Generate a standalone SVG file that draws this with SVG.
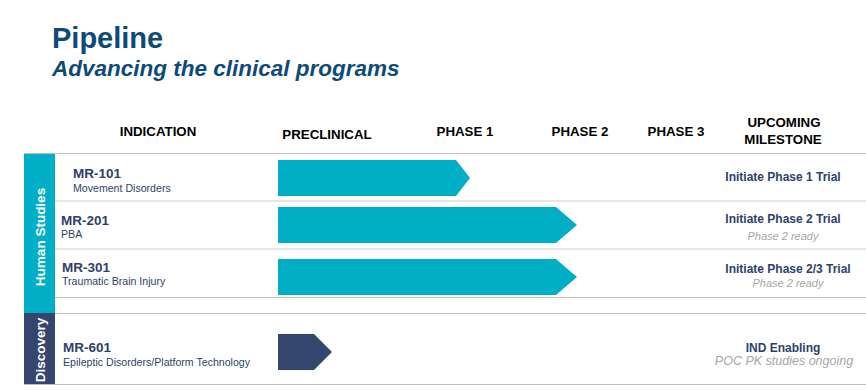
<svg xmlns="http://www.w3.org/2000/svg" width="866" height="392" viewBox="0 0 866 392">
<style>
text{font-family:"Liberation Sans",Arial,sans-serif}
.title{font-size:29px;font-weight:bold;fill:#0d4a78}
.sub{font-size:22.5px;font-weight:bold;font-style:italic;fill:#0d4a78}
.hdr{font-size:13.3px;font-weight:bold;fill:#000;text-anchor:middle}
.code{font-size:13.5px;font-weight:bold;fill:#2f3f6b}
.ind{font-size:10.6px;fill:#2f3f6b}
.ms{font-size:12px;font-weight:bold;fill:#2f3f6b;text-anchor:middle}
.note{font-size:11px;font-style:italic;fill:#a6a6a6;text-anchor:middle}
.side{font-size:13.5px;font-weight:bold;fill:#fff;text-anchor:middle}
.teal{fill:#00afc5}
.navy{fill:#34466e}
.ln{stroke:#bfbfbf;stroke-width:1.2}
.lnl{stroke:#e6e6e6;stroke-width:2}
</style>
<text class="title" x="52" y="48">Pipeline</text>
<text class="sub" x="52" y="76">Advancing the clinical programs</text>
<g id="headers">
<text class="hdr" x="158" y="136">INDICATION</text>
<text class="hdr" x="327" y="139">PRECLINICAL</text>
<text class="hdr" x="465" y="136">PHASE 1</text>
<text class="hdr" x="580" y="136">PHASE 2</text>
<text class="hdr" x="676" y="136">PHASE 3</text>
<text class="hdr" x="784" y="127">UPCOMING</text>
<text class="hdr" x="783" y="144">MILESTONE</text>
</g>
<g id="grid">
<line class="ln" x1="24" y1="153.5" x2="866" y2="153.5"/>
<line class="lnl" x1="55" y1="201" x2="866" y2="201"/>
<line class="lnl" x1="55" y1="249" x2="866" y2="249"/>
<line class="ln" x1="55" y1="297.5" x2="866" y2="297.5"/>
<line class="ln" x1="55" y1="313.5" x2="866" y2="313.5"/>
<line class="ln" x1="24" y1="384.5" x2="866" y2="384.5"/>
</g>
<g id="human-studies">
<rect class="teal" x="24" y="154" width="31" height="159"/>
<text class="side" transform="translate(44.5,237) rotate(-90)">Human Studies</text>
</g>
<g id="discovery">
<rect class="navy" x="24" y="313" width="31" height="71"/>
<text class="side" transform="translate(44.5,350) rotate(-90)">Discovery</text>
</g>
<g id="mr-101">
<text class="code" x="73" y="178">MR-101</text>
<text class="ind" x="73" y="192">Movement Disorders</text>
<polygon class="teal" points="278,160 456,160 470,178 456,196 278,196"/>
<text class="ms" x="783" y="181">Initiate Phase 1 Trial</text>
</g>
<g id="mr-201">
<text class="code" x="61" y="225">MR-201</text>
<text class="ind" x="61" y="238">PBA</text>
<polygon class="teal" points="278,207 556,207 577,225 556,243 278,243"/>
<text class="ms" x="783" y="223">Initiate Phase 2 Trial</text>
<text class="note" x="783" y="240">Phase 2 ready</text>
</g>
<g id="mr-301">
<text class="code" x="62" y="272">MR-301</text>
<text class="ind" x="62" y="285">Traumatic Brain Injury</text>
<polygon class="teal" points="278,259 556,259 577,277 556,295 278,295"/>
<text class="ms" x="788" y="273">Initiate Phase 2/3 Trial</text>
<text class="note" x="788" y="287">Phase 2 ready</text>
</g>
<g id="mr-601">
<text class="code" x="63" y="352">MR-601</text>
<text class="ind" x="63" y="366">Epileptic Disorders/Platform Technology</text>
<polygon class="navy" points="278,334 314,334 332,352 314,370 278,370"/>
<text class="ms" x="783" y="352">IND Enabling</text>
<text class="note" x="784" y="365" style="font-size:12.5px">POC PK studies ongoing</text>
</g>
</svg>
